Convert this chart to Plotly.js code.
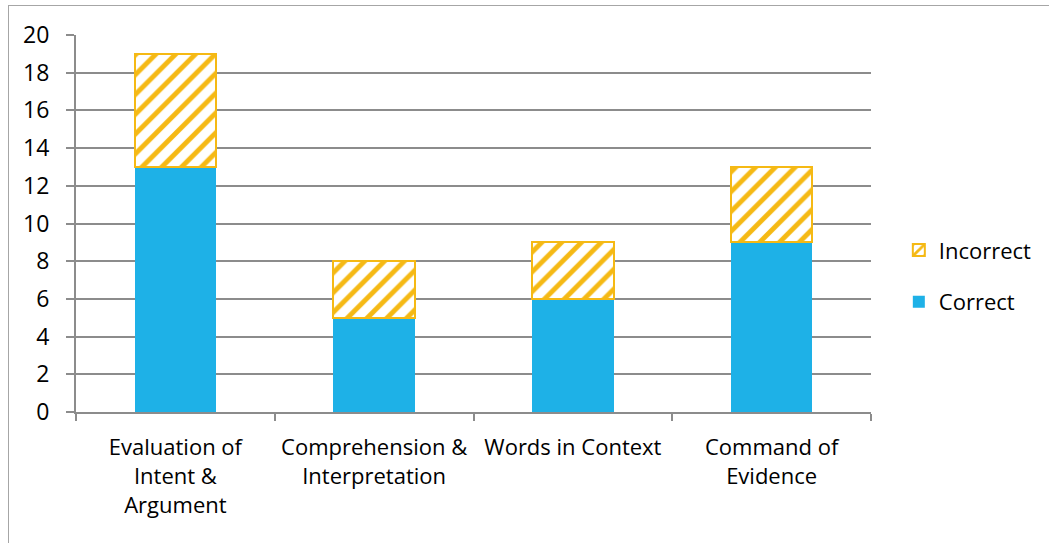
<!DOCTYPE html>
<html>
<head>
<meta charset="utf-8">
<script src="https://cdn.plot.ly/plotly-3.0.1.min.js"></script>
<style>
  html, body { margin: 0; padding: 0; background: #fff; }
  #frame { position: absolute; left: 8px; top: 5px; width: 1100px; height: 600px; border: 1.5px solid #a6a6a6; box-sizing: border-box; }
  #chart { position: absolute; left: 0; top: 0; width: 1049px; height: 543px; }
</style>
</head>
<body>
<div id="frame"></div>
<div id="chart"></div>
<script>
const categories = ["Evaluation of<br>Intent &<br>Argument", "Comprehension &<br>Interpretation", "Words in Context", "Command of<br>Evidence"];
const correct = [13, 5, 6, 9];
const incorrect = [6, 3, 3, 4];
const yTicks = [0, 2, 4, 6, 8, 10, 12, 14, 16, 18, 20];

const font = "'Open Sans', Lato, sans-serif";

const traces = [
  {
    type: "bar", name: "Correct", x: categories, y: correct,
    legendgroup: "b", legendrank: 2,
    marker: { color: "#1eb1e7", line: { width: 0 } },
    hoverinfo: "y+name"
  },
  {
    type: "bar", name: "Incorrect", x: categories, y: incorrect,
    legendgroup: "a", legendrank: 1,
    marker: {
      color: "#ffffff",
      line: { color: "#f5b914", width: 2 },
      pattern: { shape: "/", fgcolor: "#f5b914", bgcolor: "#ffffff", size: 14, solidity: 0.35 }
    },
    hoverinfo: "y+name"
  }
];

const layout = {
  width: 1049, height: 543,
  margin: { l: 76, r: 176, t: 35, b: 131 },
  paper_bgcolor: "rgba(0,0,0,0)",
  plot_bgcolor: "rgba(0,0,0,0)",
  barmode: "stack",
  bargap: 0.59,
  font: { family: font, size: 22, color: "#000" },
  xaxis: {
    type: "category",
    tickangle: 0,
    automargin: false,
    showline: true, linecolor: "#8c8c8c", linewidth: 2,
    ticks: "outside", tickson: "boundaries", ticklen: 7, tickcolor: "#8c8c8c", tickwidth: 2,
    tickfont: { family: font, size: 22, color: "#000" },
    ticklabelstandoff: 15,
    showgrid: false, zeroline: false
  },
  yaxis: {
    range: [0, 20], tickvals: yTicks, ticktext: yTicks.map(String),
    automargin: false,
    showline: true, linecolor: "#8c8c8c", linewidth: 2,
    ticks: "outside", ticklen: 8, tickcolor: "#8c8c8c", tickwidth: 2,
    showgrid: true, gridcolor: "#8c8c8c", gridwidth: 2,
    zeroline: false,
    ticklabelstandoff: 12,
    tickfont: { family: font, size: 23, color: "#000" }
  },
  showlegend: true,
  legend: {
    x: 1.035, y: 0.36, xanchor: "left", yanchor: "middle",
    traceorder: "grouped", tracegroupgap: 20,
    font: { family: font, size: 22, color: "#000" },
    itemwidth: 30
  }
};

Plotly.newPlot("chart", traces, layout, { displayModeBar: false, staticPlot: true });
</script>
</body>
</html>
